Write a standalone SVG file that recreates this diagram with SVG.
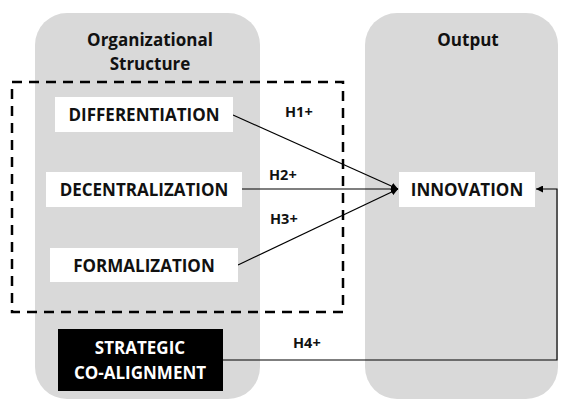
<svg xmlns="http://www.w3.org/2000/svg" width="567" height="400" viewBox="0 0 567 400">
  <defs>
    <style>
      .panel { fill: #d9d9d9; }
      .box { fill: #ffffff; }
      .dark { fill: #000000; }
      .lbl { font-family: "Open Sans", "Liberation Sans", sans-serif; font-weight: bold; font-size: 17px; fill: #111; text-anchor: middle; }
      .inv { fill: #ffffff; }
      .hyp { font-family: "Open Sans", "Liberation Sans", sans-serif; font-weight: bold; font-size: 14.5px; fill: #111; }
      .conn { stroke: #000; stroke-width: 1.2; fill: none; }
      .frame { stroke: #000; stroke-width: 2.5; fill: none; stroke-dasharray: 10 7; }
    </style>
    <marker id="arrow" viewBox="0 0 10 10" refX="10" refY="5" markerWidth="7" markerHeight="7" markerUnits="userSpaceOnUse" orient="auto">
      <path d="M0,0 L10,5 L0,10 z" fill="#000"/>
    </marker>
  </defs>

  <!-- background panels -->
  <g id="panel-structure">
    <rect class="panel" x="35" y="13" width="225" height="386" rx="32"/>
    <text class="lbl" x="150" y="46">Organizational</text>
    <text class="lbl" x="150" y="70">Structure</text>
  </g>
  <g id="panel-output">
    <rect class="panel" x="365" y="13" width="193" height="386" rx="32"/>
    <text class="lbl" x="468" y="46">Output</text>
  </g>

  <!-- dashed grouping frame -->
  <rect id="group-frame" class="frame" x="12" y="82" width="331" height="230"/>

  <!-- connectors -->
  <g id="connectors">
    <line class="conn" x1="233" y1="115" x2="398" y2="189" marker-end="url(#arrow)"/>
    <line class="conn" x1="242" y1="189" x2="398" y2="189" marker-end="url(#arrow)"/>
    <line class="conn" x1="238" y1="265" x2="398" y2="189" marker-end="url(#arrow)"/>
    <polyline class="conn" points="223,360 557,360 557,189 536,189" marker-end="url(#arrow)"/>
    <text class="hyp" x="285" y="117">H1+</text>
    <text class="hyp" x="269" y="180">H2+</text>
    <text class="hyp" x="270" y="224">H3+</text>
    <text class="hyp" x="293" y="348">H4+</text>
  </g>

  <!-- nodes -->
  <g id="differentiation">
    <rect class="box" x="55" y="97" width="178" height="35"/>
    <text class="lbl" x="144" y="121">DIFFERENTIATION</text>
  </g>
  <g id="decentralization">
    <rect class="box" x="46" y="172" width="196" height="35"/>
    <text class="lbl" x="144" y="196">DECENTRALIZATION</text>
  </g>
  <g id="formalization">
    <rect class="box" x="50" y="248" width="188" height="34"/>
    <text class="lbl" x="144" y="272">FORMALIZATION</text>
  </g>
  <g id="strategic-co-alignment">
    <rect class="dark" x="58" y="329" width="165" height="62"/>
    <text class="lbl inv" x="140" y="354">STRATEGIC</text>
    <text class="lbl inv" x="140" y="379">CO-ALIGNMENT</text>
  </g>
  <g id="innovation">
    <rect class="box" x="399" y="172" width="136" height="35"/>
    <text class="lbl" x="467" y="196">INNOVATION</text>
  </g>
</svg>
